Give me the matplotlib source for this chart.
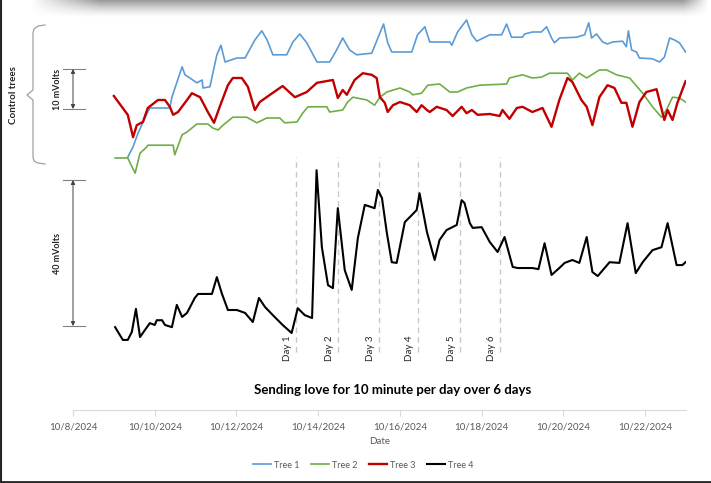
import numpy as np
import pandas as pd
import matplotlib
matplotlib.use("Agg")
import matplotlib.pyplot as plt
from matplotlib import transforms
from matplotlib.lines import Line2D
from matplotlib.ticker import FuncFormatter
import matplotlib.dates as mdates

plt.rcParams['font.family'] = ['Lato', 'DejaVu Sans']

start = pd.Timestamp("2024-10-09")

# Control trees: time in days since 10/9/2024, signal in mV
t1_days = [0.34, 0.47, 0.59, 0.83, 0.88, 1.37, 1.42, 1.67, 1.74, 1.86,
           2.03, 2.16, 2.18, 2.35, 2.52, 2.62, 2.72, 3.01, 3.21, 3.45,
           3.62, 3.75, 3.89, 4.23, 4.38, 4.55, 4.72, 4.97, 5.28, 5.45,
           5.60, 5.77, 5.94, 6.31, 6.46, 6.60, 6.70, 6.80, 7.29, 7.43,
           7.61, 7.73, 8.22, 8.27, 8.41, 8.63, 8.76, 8.88, 9.20, 9.49,
           9.61, 9.73, 10.00, 10.05, 10.24, 10.46, 10.59, 10.71, 10.78, 10.91,
           11.32, 11.52, 11.62, 11.69, 11.81, 11.96, 12.08, 12.20, 12.45, 12.54,
           12.59, 12.67, 12.79, 12.86, 13.18, 13.35, 13.47, 13.60, 13.72, 13.84,
           13.99]
t1_mv = [3.2, 5.8, 9.2, 14.5, 15.5, 15.5, 18.2, 25.8, 23.8, 23.0,
         21.8, 22.5, 20.5, 20.8, 28.8, 31.2, 27.0, 28.0, 28.0, 32.5,
         34.8, 32.5, 28.8, 28.8, 32.0, 34.0, 31.8, 27.0, 27.0, 30.0,
         33.0, 30.0, 28.8, 29.2, 33.0, 36.5, 31.8, 29.5, 29.5, 33.8,
         35.8, 32.0, 32.0, 31.2, 34.5, 37.5, 33.8, 32.2, 33.8, 33.8,
         36.5, 33.2, 33.2, 34.0, 34.5, 34.5, 35.8, 33.0, 31.8, 33.0,
         33.2, 33.8, 36.8, 33.0, 34.0, 32.0, 31.5, 32.0, 32.2, 30.8,
         34.8, 30.0, 29.5, 28.0, 27.8, 27.0, 28.2, 33.0, 32.5, 31.8,
         29.5]

t2_days = [0.03, 0.34, 0.52, 0.64, 0.81, 0.83, 1.45, 1.49, 1.67, 1.79,
           2.03, 2.30, 2.42, 2.55, 2.67, 2.91, 3.25, 3.50, 3.74, 4.06,
           4.18, 4.48, 4.62, 4.75, 5.21, 5.28, 5.60, 5.72, 5.85, 6.19,
           6.38, 6.51, 6.68, 7.00, 7.24, 7.31, 7.53, 7.68, 7.97, 8.22,
           8.41, 8.63, 8.95, 9.61, 9.68, 10.00, 10.24, 10.46, 10.66, 11.10,
           11.22, 11.39, 11.57, 11.88, 12.06, 12.30, 12.62, 12.94, 13.18, 13.40,
           13.52, 13.67, 13.84, 13.99]
t2_mv = [3.0, 3.0, -0.8, 4.2, 5.8, 6.2, 6.2, 3.8, 8.8, 9.5,
         11.5, 11.5, 10.5, 10.0, 11.2, 13.2, 13.2, 11.8, 13.0, 13.0,
         11.8, 12.0, 14.2, 15.8, 15.8, 14.5, 15.0, 17.0, 18.2, 17.5,
         16.2, 18.2, 19.5, 20.5, 19.5, 18.8, 19.2, 21.2, 21.5, 19.5,
         19.5, 20.5, 21.2, 21.5, 23.0, 23.8, 23.0, 23.2, 24.2, 24.2,
         22.5, 24.2, 23.0, 25.0, 25.0, 23.8, 23.0, 19.2, 15.8, 13.2,
         15.0, 18.2, 18.0, 17.0]

t3_days = [0.00, 0.34, 0.47, 0.56, 0.71, 0.83, 1.08, 1.25, 1.37, 1.45,
           1.57, 1.79, 1.91, 2.11, 2.30, 2.45, 2.59, 2.79, 2.91, 3.13,
           3.28, 3.45, 3.57, 3.82, 4.13, 4.43, 4.72, 4.97, 5.36, 5.48,
           5.60, 5.70, 5.89, 6.09, 6.31, 6.43, 6.51, 6.63, 6.70, 6.83,
           7.00, 7.24, 7.41, 7.53, 7.66, 7.73, 7.90, 8.14, 8.29, 8.51,
           8.63, 8.76, 8.90, 9.20, 9.44, 9.51, 9.68, 9.86, 10.00, 10.24,
           10.49, 10.71, 10.90, 11.10, 11.22, 11.44, 11.57, 11.71, 11.88, 12.08,
           12.25, 12.42, 12.54, 12.69, 12.86, 13.03, 13.28, 13.47, 13.55, 13.67,
           13.79, 13.99]
t3_mv = [18.5, 13.8, 8.2, 11.2, 12.0, 15.5, 17.5, 17.5, 15.8, 13.8,
         14.5, 17.5, 19.2, 18.2, 14.5, 11.8, 15.8, 21.2, 23.0, 23.0,
         20.8, 15.0, 17.0, 18.8, 21.0, 18.2, 19.5, 21.8, 22.5, 18.0,
         20.0, 18.8, 22.5, 24.2, 23.8, 23.0, 18.2, 16.8, 14.5, 16.2,
         17.0, 16.2, 14.5, 16.2, 15.0, 14.5, 15.8, 15.0, 13.5, 15.8,
         14.2, 15.0, 13.8, 14.0, 13.5, 15.0, 12.8, 15.5, 15.8, 14.5,
         15.5, 10.8, 17.5, 23.0, 22.0, 17.5, 15.8, 11.2, 18.2, 21.2,
         20.5, 16.8, 16.8, 10.8, 17.0, 19.5, 20.2, 12.5, 15.0, 12.5,
         16.8, 22.2]

# Tree 4 (the one receiving love), own mV scale
t4_days = [0.03, 0.22, 0.34, 0.44, 0.54, 0.64, 0.81, 0.88, 1.00, 1.05,
           1.18, 1.25, 1.42, 1.54, 1.67, 1.79, 1.98, 2.06, 2.40, 2.52,
           2.64, 2.79, 3.01, 3.21, 3.40, 3.55, 3.70, 3.89, 4.13, 4.35,
           4.50, 4.67, 4.85, 4.96, 5.09, 5.24, 5.36, 5.48, 5.65, 5.82,
           5.97, 6.14, 6.38, 6.46, 6.56, 6.68, 6.80, 6.92, 7.12, 7.29,
           7.41, 7.48, 7.66, 7.85, 7.97, 8.14, 8.39, 8.51, 8.58, 8.71,
           8.78, 9.00, 9.20, 9.39, 9.56, 9.76, 9.88, 10.24, 10.39, 10.54,
           10.71, 10.90, 11.03, 11.22, 11.39, 11.57, 11.71, 11.84, 12.13, 12.37,
           12.57, 12.77, 12.94, 13.18, 13.40, 13.55, 13.77, 13.91, 13.99]
t4_mv = [4.9, 1.4, 1.4, 3.6, 9.9, 2.2, 4.9, 6.0, 5.5, 6.8,
         6.8, 5.5, 4.9, 11.0, 7.7, 8.8, 12.9, 14.0, 14.0, 18.6,
         14.2, 9.6, 9.6, 8.8, 6.3, 12.9, 10.4, 8.2, 5.5, 3.3,
         10.1, 8.2, 7.4, 47.9, 26.8, 16.4, 15.6, 37.5, 20.5, 15.1,
         29.3, 38.4, 37.5, 42.5, 40.3, 30.7, 22.7, 22.5, 33.7, 35.6,
         37.0, 41.6, 31.0, 23.3, 28.8, 31.5, 32.9, 39.7, 38.9, 33.4,
         32.1, 32.3, 28.2, 25.5, 29.6, 21.4, 21.1, 21.1, 20.8, 27.9,
         19.2, 21.1, 22.5, 23.3, 22.5, 29.6, 20.0, 18.9, 22.7, 22.5,
         33.4, 19.7, 22.7, 26.0, 26.8, 33.4, 21.9, 21.9, 22.7]

day_marks = ["2024-10-13 11:15", "2024-10-14 11:45", "2024-10-15 11:30",
             "2024-10-16 10:30", "2024-10-17 11:30", "2024-10-18 10:30"]
day_labels = ["Day 1", "Day 2", "Day 3", "Day 4", "Day 5", "Day 6"]
tick_dates = pd.date_range("2024-10-08", "2024-10-22", freq="2D")

names = ["Tree 1", "Tree 2", "Tree 3", "Tree 4"]
colors = ["#5B9BD5", "#70AD47", "#C00000", "#000000"]
widths = [1.2, 1.2, 1.7, 1.5]


def to_time(days):
    return start + pd.to_timedelta(np.array(days), unit="D")


fig = plt.figure(figsize=(7.11, 4.83), dpi=100)

# background layer in pixel coordinates: frame, top shadow, bracket
bg = fig.add_axes([0, 0, 1, 1])
bg.set_xlim(0, 711)
bg.set_ylim(483, 0)
bg.axis("off")

xs = np.arange(711)
fade_x = np.clip(np.minimum((xs - 30) / 70.0, (708 - xs) / 25.0), 0, 1)
fade_y = np.linspace(1, 0, 18) ** 1.4
shadow = np.zeros((18, 711, 4))
shadow[..., :3] = 0.35
shadow[..., 3] = 0.6 * fade_y[:, None] * fade_x[None, :]
bg.imshow(shadow, extent=(0, 711, 18, 0), aspect="auto", interpolation="bilinear")
bg.plot([1, 1], [0, 483], color="#262626", lw=1.5)
bg.plot([0, 711], [481.5, 481.5], color="#262626", lw=2)

# curly bracket for the control trees
bx = [45, 38, 34, 33, 33, 27, 33, 33, 34, 38, 45]
by = [25, 26, 29, 33, 90, 95, 100, 157, 161, 163, 164]
bg.plot(bx, by, color="#a0a0a0", lw=0.9)
bg.text(14, 95, "Control trees", rotation=90, ha="center", va="center",
        fontsize=7, fontweight="bold", color="#262626")

bg.text(393, 390, "Sending love for 10 minute per day over 6 days",
        ha="center", va="center", fontsize=9.5, fontweight="bold", color="#000000")

# main axes (control trees) and overlay axes for tree 4
pos = [73 / 711, 73 / 483, 613 / 711, 400 / 483]
ax = fig.add_axes(pos)
ax2 = fig.add_axes(pos, sharex=ax)
ax.patch.set_visible(False)
ax2.patch.set_visible(False)

ax.plot(to_time(t1_days), t1_mv, color=colors[0], lw=widths[0])
ax.plot(to_time(t2_days), t2_mv, color=colors[1], lw=widths[1])
ax.plot(to_time(t3_days), t3_mv, color=colors[2], lw=widths[2])
ax2.plot(to_time(t4_days), t4_mv, color=colors[3], lw=widths[3])

ax.set_ylim(-60, 40)
ax2.set_ylim(-17.8, 91.8)
ax.set_xlim(pd.Timestamp("2024-10-08"), pd.Timestamp("2024-10-23"))

# day markers
for d, lab in zip(pd.to_datetime(day_marks), day_labels):
    ax2.plot([d, d], [-1.9, 51.5], color="#c8c8c8", lw=1, ls=(0, (4, 3)), zorder=0)
    ax2.text(d - pd.Timedelta(hours=5), -0.8, lab, rotation=90, ha="center",
             va="center", fontsize=7, color="#262626")

# scale bars
trans = transforms.blended_transform_factory(ax.transAxes, ax.transData)
trans2 = transforms.blended_transform_factory(ax2.transAxes, ax2.transData)
for tr, lo, hi, lab in [(trans, 15.25, 25.25, "10 mVolts"),
                        (trans2, 5.2, 45.2, "40 mVolts")]:
    ax.annotate("", xy=(0, hi), xytext=(0, lo), xycoords=tr, textcoords=tr,
                arrowprops=dict(arrowstyle="<|-|>", color="#404040", lw=0.7,
                                mutation_scale=6, shrinkA=0, shrinkB=0),
                annotation_clip=False)
    for yv in (lo, hi):
        ax.plot([-0.0163, 0.0196], [yv, yv], transform=tr, color="#808080",
                lw=0.8, clip_on=False)
    ax.text(-0.026, (lo + hi) / 2, lab, transform=tr, rotation=90, ha="center",
            va="center", fontsize=6.5, fontweight="bold", color="#262626")

# axes styling
for a in (ax, ax2):
    for s in ("top", "right", "left"):
        a.spines[s].set_visible(False)
    a.set_yticks([])
ax2.spines["bottom"].set_visible(False)
ax2.tick_params(axis="x", bottom=False, labelbottom=False)
ax.spines["bottom"].set_color("#d9d9d9")
ax.set_xticks(tick_dates)
ax.xaxis.set_major_formatter(FuncFormatter(
    lambda v, p: "{d.month}/{d.day}/{d.year}".format(d=mdates.num2date(v))))
ax.tick_params(axis="x", colors="#d9d9d9", labelcolor="#595959", labelsize=7,
               length=4, pad=5)
ax.set_xlabel("Date", fontsize=7, color="#595959", labelpad=4)

handles = [Line2D([], [], color=c, lw=w) for c, w in zip(colors, widths)]
fig.legend(handles, names, loc="center", bbox_to_anchor=(363 / 711, 1 - 465 / 483),
           ncol=4, frameon=False, fontsize=6.5, handlelength=2, handletextpad=0.3,
           columnspacing=1.3, labelcolor="#595959")

fig.savefig("out.png", dpi=100)
